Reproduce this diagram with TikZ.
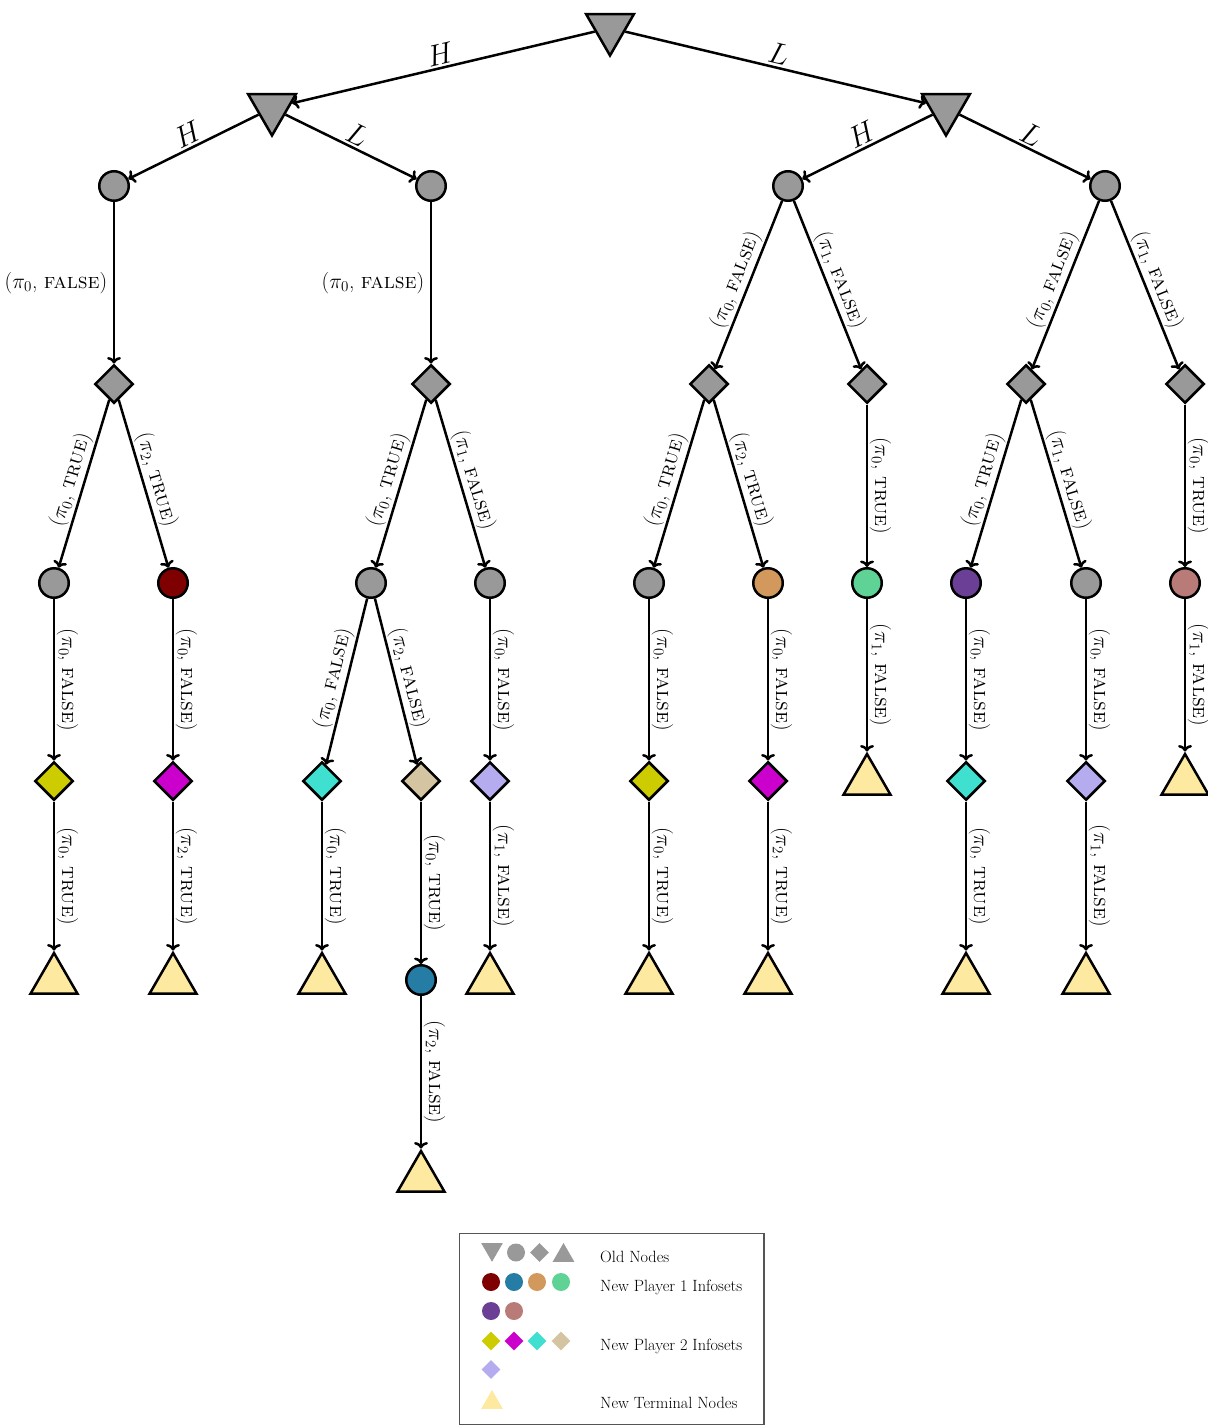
\RequirePackage{fix-cm}
\documentclass[tikz,border=0pt]{standalone}
\usetikzlibrary{shapes.geometric,arrows.meta}
\definecolor{ngray}{RGB}{153,153,153}
\definecolor{cdred}{RGB}{127,0,0}
\definecolor{cblue}{RGB}{37,124,164}
\definecolor{corange}{RGB}{211,152,92}
\definecolor{cgreen}{RGB}{95,211,150}
\definecolor{cpurple}{RGB}{107,63,150}
\definecolor{crosy}{RGB}{185,123,120}
\definecolor{cyellow}{RGB}{204,204,0}
\definecolor{cmagenta}{RGB}{204,0,204}
\definecolor{cturq}{RGB}{64,224,208}
\definecolor{ctan}{RGB}{213,196,161}
\definecolor{clav}{RGB}{180,172,238}
\definecolor{cterm}{RGB}{253,233,160}
\definecolor{cbox}{RGB}{85,85,85}
\newcommand{\edgelab}[2]{(\ensuremath{\pi_{#1}}, \textsc{#2})}
\begin{document}
\begin{tikzpicture}[x=1pt,y=-1pt,
  bd/.style={draw=black, line width=2.5pt, inner sep=0pt},
  tdown/.style={bd, regular polygon, regular polygon sides=3, shape border rotate=180, minimum size=55pt, fill=ngray},
  ccirc/.style={bd, circle, minimum size=29.5pt, fill=#1},
  cdia/.style={bd, diamond, minimum size=38.5pt, fill=#1},
  tup/.style={bd, regular polygon, regular polygon sides=3, minimum size=54pt, fill=cterm},
  arr/.style={line width=2.5pt, -{To[length=6.5pt,width=14pt]}},
  lab/.style={font=\fontsize{21.5}{24}\selectfont, inner sep=1.5pt},
  slab/.style={lab, midway, sloped, above},
  vlab/.style={lab, midway, rotate=-90, anchor=south},
  hlab/.style={lab, midway, anchor=east, xshift=-4pt},
  alab/.style={font=\fontsize{30}{32}\selectfont, inner sep=2pt, midway, sloped, above},
  lgcirc/.style={circle, inner sep=0pt, minimum size=18pt, fill=#1},
  lgdia/.style={diamond, inner sep=0pt, minimum size=19pt, fill=#1},
  lgtdown/.style={regular polygon, regular polygon sides=3, shape border rotate=180, inner sep=0pt, minimum size=25pt, fill=ngray},
  lgtup/.style={regular polygon, regular polygon sides=3, inner sep=0pt, minimum size=25pt, fill=#1},
  lgtext/.style={font=\fontsize{16.3}{18}\selectfont, anchor=base west, inner sep=0pt}
]
\useasboundingbox (0,0) rectangle (1207,1426);

% level 0/1
\node[tdown] (root) at (610,28) {};
\node[tdown] (A) at (272,108) {};
\node[tdown] (B) at (946,108) {};
% level 2
\node[ccirc=ngray] (C1) at (114,186) {};
\node[ccirc=ngray] (C2) at (431,186) {};
\node[ccirc=ngray] (C3) at (788,186) {};
\node[ccirc=ngray] (C4) at (1105,186) {};
% level 3
\node[cdia=ngray] (D1) at (114,384) {};
\node[cdia=ngray] (D2) at (431,384) {};
\node[cdia=ngray] (D3) at (709,384) {};
\node[cdia=ngray] (D4) at (867,384) {};
\node[cdia=ngray] (D5) at (1026,384) {};
\node[cdia=ngray] (D6) at (1185,384) {};
% level 4
\node[ccirc=ngray] (E1) at (54,583) {};
\node[ccirc=cdred] (E2) at (173,583) {};
\node[ccirc=ngray] (E3) at (371,583) {};
\node[ccirc=ngray] (E4) at (490,583) {};
\node[ccirc=ngray] (E5) at (649,583) {};
\node[ccirc=corange] (E6) at (768,583) {};
\node[ccirc=cgreen] (E7) at (867,583) {};
\node[ccirc=cpurple] (E8) at (966,583) {};
\node[ccirc=ngray] (E9) at (1086,583) {};
\node[ccirc=crosy] (E10) at (1185,583) {};
% level 5
\node[cdia=cyellow] (F1) at (54,781) {};
\node[cdia=cmagenta] (F2) at (173,781) {};
\node[cdia=cturq] (F3) at (322,781) {};
\node[cdia=ctan] (F4) at (421,781) {};
\node[cdia=clav] (F5) at (490,781) {};
\node[cdia=cyellow] (F6) at (649,781) {};
\node[cdia=cmagenta] (F7) at (768,781) {};
\node[tup] (T7) at (867,781) {};
\node[cdia=cturq] (F8) at (966,781) {};
\node[cdia=clav] (F9) at (1086,781) {};
\node[tup] (T10) at (1185,781) {};
% level 6
\node[tup] (T1) at (54,980) {};
\node[tup] (T2) at (173,980) {};
\node[tup] (T3) at (322,980) {};
\node[ccirc=cblue] (G) at (421,980) {};
\node[tup] (T5) at (490,980) {};
\node[tup] (T6) at (649,980) {};
\node[tup] (T7b) at (768,980) {};
\node[tup] (T8) at (966,980) {};
\node[tup] (T9) at (1086,980) {};
% level 7
\node[tup] (TG) at (421,1178) {};

% edges
\draw[arr] (root) -- node[alab]{$H$} (A);
\draw[arr] (root) -- node[alab]{$L$} (B);
\draw[arr] (A) -- node[alab]{$H$} (C1);
\draw[arr] (A) -- node[alab]{$L$} (C2);
\draw[arr] (B) -- node[alab]{$H$} (C3);
\draw[arr] (B) -- node[alab]{$L$} (C4);

\draw[arr] (C1) -- node[hlab]{\edgelab{0}{false}} (D1);
\draw[arr] (C2) -- node[hlab]{\edgelab{0}{false}} (D2);
\draw[arr] (C3) -- node[slab]{\edgelab{0}{false}} (D3);
\draw[arr] (C3) -- node[slab]{\edgelab{1}{false}} (D4);
\draw[arr] (C4) -- node[slab]{\edgelab{0}{false}} (D5);
\draw[arr] (C4) -- node[slab]{\edgelab{1}{false}} (D6);

\draw[arr] (D1) -- node[slab]{\edgelab{0}{true}} (E1);
\draw[arr] (D1) -- node[slab]{\edgelab{2}{true}} (E2);
\draw[arr] (D2) -- node[slab]{\edgelab{0}{true}} (E3);
\draw[arr] (D2) -- node[slab]{\edgelab{1}{false}} (E4);
\draw[arr] (D3) -- node[slab]{\edgelab{0}{true}} (E5);
\draw[arr] (D3) -- node[slab]{\edgelab{2}{true}} (E6);
\draw[arr] (D4) -- node[vlab]{\edgelab{0}{true}} (E7);
\draw[arr] (D5) -- node[slab]{\edgelab{0}{true}} (E8);
\draw[arr] (D5) -- node[slab]{\edgelab{1}{false}} (E9);
\draw[arr] (D6) -- node[vlab]{\edgelab{0}{true}} (E10);

\draw[arr] (E1) -- node[vlab]{\edgelab{0}{false}} (F1);
\draw[arr] (E2) -- node[vlab]{\edgelab{0}{false}} (F2);
\draw[arr] (E3) -- node[slab]{\edgelab{0}{false}} (F3);
\draw[arr] (E3) -- node[slab]{\edgelab{2}{false}} (F4);
\draw[arr] (E4) -- node[vlab]{\edgelab{0}{false}} (F5);
\draw[arr] (E5) -- node[vlab]{\edgelab{0}{false}} (F6);
\draw[arr] (E6) -- node[vlab]{\edgelab{0}{false}} (F7);
\draw[arr] (E7) -- node[vlab]{\edgelab{1}{false}} (T7);
\draw[arr] (E8) -- node[vlab]{\edgelab{0}{false}} (F8);
\draw[arr] (E9) -- node[vlab]{\edgelab{0}{false}} (F9);
\draw[arr] (E10) -- node[vlab]{\edgelab{1}{false}} (T10);

\draw[arr] (F1) -- node[vlab]{\edgelab{0}{true}} (T1);
\draw[arr] (F2) -- node[vlab]{\edgelab{2}{true}} (T2);
\draw[arr] (F3) -- node[vlab]{\edgelab{0}{true}} (T3);
\draw[arr] (F4) -- node[vlab]{\edgelab{0}{true}} (G);
\draw[arr] (F5) -- node[vlab]{\edgelab{1}{false}} (T5);
\draw[arr] (F6) -- node[vlab]{\edgelab{0}{true}} (T6);
\draw[arr] (F7) -- node[vlab]{\edgelab{2}{true}} (T7b);
\draw[arr] (F8) -- node[vlab]{\edgelab{0}{true}} (T8);
\draw[arr] (F9) -- node[vlab]{\edgelab{1}{false}} (T9);
\draw[arr] (G) -- node[vlab]{\edgelab{2}{false}} (TG);

% legend
\node[draw=cbox, line width=1.5pt, inner sep=0pt, minimum width=304.5pt, minimum height=191pt] (legend) at (611.75,1329) {};
\node[lgtdown] (lg1) at (492,1249.3) {};
\node[lgcirc=ngray] (lg2) at (516,1252.5) {};
\node[lgdia=ngray] (lg3) at (539.5,1252.5) {};
\node[lgtup=ngray] (lg4) at (563.5,1255.5) {};
\node[lgcirc=cdred] (lp1) at (491,1282) {};
\node[lgcirc=cblue] (lp2) at (514,1282) {};
\node[lgcirc=corange] (lp3) at (537,1282) {};
\node[lgcirc=cgreen] (lp4) at (561,1282) {};
\node[lgcirc=cpurple] (lp5) at (491,1311) {};
\node[lgcirc=crosy] (lp6) at (514,1311) {};
\node[lgdia=cyellow] (lq1) at (491,1341) {};
\node[lgdia=cmagenta] (lq2) at (514,1341) {};
\node[lgdia=cturq] (lq3) at (537,1341) {};
\node[lgdia=ctan] (lq4) at (561,1341) {};
\node[lgdia=clav] (lq5) at (491,1369.5) {};
\node[lgtup=cterm] (lt1) at (492,1402.5) {};
\node[lgtext] (tx1) at (600,1262) {Old Nodes};
\node[lgtext] (tx2) at (600,1291) {New Player 1 Infosets};
\node[lgtext] (tx3) at (600,1350) {New Player 2 Infosets};
\node[lgtext] (tx4) at (600,1408) {New Terminal Nodes};
\end{tikzpicture}
\end{document}
